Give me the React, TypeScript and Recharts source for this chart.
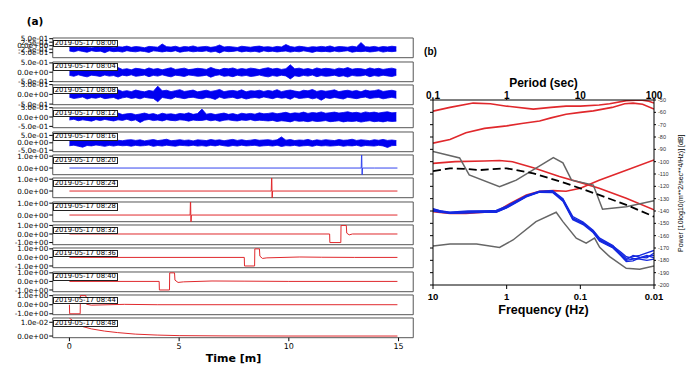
import React from 'react';
import { ComposedChart, LineChart, Line, Area, XAxis, YAxis, ReferenceArea } from 'recharts';

// ---- panel (a): hand-read samples of the 13 four-minute records ----
const stamps = [
  '2019-05-17 08:00', '2019-05-17 08:04', '2019-05-17 08:08', '2019-05-17 08:12',
  '2019-05-17 08:16', '2019-05-17 08:20', '2019-05-17 08:24', '2019-05-17 08:28',
  '2019-05-17 08:32', '2019-05-17 08:36', '2019-05-17 08:40', '2019-05-17 08:44',
  '2019-05-17 08:48',
];

// noisy records: upper / lower envelope of the trace, read in ~0.2 min bins
const hi0800 = [
  -0.10, -0.06, -0.12, -0.04, -0.09, -0.14, -0.05, -0.11, 0.02, -0.08, -0.13, -0.07, -0.10, -0.03, -0.12,
  -0.06, -0.09, -0.15, -0.05, -0.08, -0.11, 0.12, -0.07, -0.10, -0.04, -0.13, -0.06, -0.09, -0.02, -0.11,
  -0.08, -0.05, -0.12, -0.07, 0.05, -0.10, -0.06, -0.09, -0.13, -0.04, -0.08, -0.11, -0.06, -0.03, -0.10,
  -0.07, -0.12, -0.05, -0.09, 0.08, -0.06, -0.11, -0.04, -0.08, -0.13, -0.07, -0.10, -0.05, -0.09, -0.02,
  -0.12, -0.06, -0.08, -0.11, -0.04, -0.09, 0.22, -0.07, -0.10, -0.05, -0.12, -0.06, -0.09, -0.04, -0.08,
];
const lo0800 = [
  -0.38, -0.44, -0.35, -0.41, -0.47, -0.36, -0.42, -0.39, -0.50, -0.37, -0.43, -0.40, -0.46, -0.36, -0.41,
  -0.44, -0.38, -0.42, -0.48, -0.37, -0.40, -0.45, -0.39, -0.43, -0.36, -0.47, -0.41, -0.38, -0.44, -0.40,
  -0.42, -0.37, -0.46, -0.40, -0.52, -0.38, -0.43, -0.41, -0.36, -0.45, -0.39, -0.44, -0.40, -0.47, -0.37,
  -0.43, -0.39, -0.45, -0.41, -0.38, -0.46, -0.40, -0.44, -0.37, -0.42, -0.48, -0.39, -0.43, -0.41, -0.45,
  -0.38, -0.44, -0.40, -0.36, -0.47, -0.41, -0.43, -0.39, -0.45, -0.42, -0.37, -0.46, -0.40, -0.43, -0.39,
];
const hi0804 = [
  0.16, 0.21, 0.13, 0.19, 0.24, 0.14, 0.18, 0.22, 0.12, 0.20, 0.17, 0.25, 0.15, 0.19, 0.13,
  0.21, 0.18, 0.14, 0.23, 0.16, 0.20, 0.13, 0.19, 0.24, 0.15, 0.18, 0.22, 0.14, 0.17, 0.21,
  0.19, 0.15, 0.26, 0.17, 0.13, 0.21, 0.18, 0.23, 0.15, 0.20, 0.16, 0.22, 0.19, 0.14, 0.20,
  0.24, 0.17, 0.21, 0.15, 0.19, 0.40, 0.18, 0.22, 0.16, 0.20, 0.14, 0.23, 0.17, 0.21, 0.19,
  0.15, 0.22, 0.18, 0.25, 0.16, 0.20, 0.19, 0.14, 0.23, 0.17, 0.21, 0.15, 0.19, 0.22, 0.16,
];
const lo0804 = [
  -0.17, -0.22, -0.14, -0.20, -0.25, -0.16, -0.19, -0.23, -0.15, -0.21, -0.18, -0.26, -0.16, -0.20, -0.14,
  -0.22, -0.19, -0.15, -0.24, -0.17, -0.21, -0.14, -0.20, -0.25, -0.16, -0.19, -0.23, -0.15, -0.18, -0.22,
  -0.20, -0.16, -0.27, -0.18, -0.14, -0.22, -0.19, -0.24, -0.16, -0.21, -0.17, -0.23, -0.20, -0.15, -0.21,
  -0.25, -0.18, -0.22, -0.16, -0.20, -0.36, -0.19, -0.23, -0.17, -0.21, -0.15, -0.24, -0.18, -0.22, -0.20,
  -0.16, -0.23, -0.19, -0.26, -0.17, -0.21, -0.20, -0.15, -0.24, -0.18, -0.22, -0.16, -0.20, -0.23, -0.17,
];
const hi0808 = [
  0.20, 0.14, 0.18, 0.24, 0.13, 0.19, 0.35, 0.16, 0.21, 0.12, 0.18, 0.23, 0.15, 0.19, 0.14,
  0.22, 0.17, 0.13, 0.20, 0.16, 0.42, 0.18, 0.21, 0.14, 0.19, 0.24, 0.15, 0.18, 0.22, 0.13,
  0.17, 0.21, 0.15, 0.19, 0.25, 0.14, 0.18, 0.20, 0.16, 0.23, 0.13, 0.19, 0.17, 0.21, 0.15,
  0.20, 0.16, 0.24, 0.14, 0.19, 0.22, 0.17, 0.13, 0.21, 0.18, 0.25, 0.15, 0.20, 0.16, 0.19,
  0.23, 0.14, 0.18, 0.21, 0.16, 0.20, 0.13, 0.22, 0.17, 0.19, 0.24, 0.15, 0.18, 0.21, 0.16,
];
const lo0808 = [
  -0.15, -0.21, -0.18, -0.13, -0.24, -0.17, -0.20, -0.14, -0.22, -0.19, -0.16, -0.25, -0.18, -0.14, -0.21,
  -0.17, -0.23, -0.15, -0.19, -0.21, -0.38, -0.16, -0.20, -0.24, -0.14, -0.18, -0.22, -0.17, -0.15, -0.20,
  -0.23, -0.16, -0.19, -0.26, -0.14, -0.21, -0.18, -0.15, -0.22, -0.17, -0.24, -0.19, -0.16, -0.20, -0.13,
  -0.18, -0.22, -0.15, -0.20, -0.17, -0.25, -0.14, -0.21, -0.19, -0.16, -0.23, -0.18, -0.30, -0.17, -0.21,
  -0.16, -0.20, -0.24, -0.15, -0.19, -0.22, -0.17, -0.14, -0.21, -0.18, -0.16, -0.23, -0.19, -0.15, -0.20,
];
const hi0812 = [
  0.14, 0.19, 0.12, 0.17, 0.22, 0.13, 0.16, 0.20, 0.11, 0.18, 0.15, 0.21, 0.13, 0.17, 0.19,
  0.12, 0.16, 0.21, 0.14, 0.18, 0.11, 0.20, 0.15, 0.17, 0.13, 0.19, 0.16, 0.22, 0.14, 0.18,
  0.42, 0.15, 0.19, 0.13, 0.17, 0.21, 0.14, 0.18, 0.12, 0.20, 0.16, 0.19, 0.15, 0.22, 0.17,
  0.19, 0.23, 0.17, 0.21, 0.25, 0.18, 0.22, 0.20, 0.26, 0.19, 0.24, 0.21, 0.27, 0.20, 0.23,
  0.26, 0.21, 0.24, 0.28, 0.22, 0.25, 0.20, 0.27, 0.23, 0.26, 0.21, 0.25, 0.28, 0.22, 0.24,
];
const lo0812 = [
  -0.16, -0.12, -0.20, -0.15, -0.18, -0.22, -0.14, -0.19, -0.13, -0.17, -0.21, -0.15, -0.18, -0.12, -0.20,
  -0.15, -0.29, -0.17, -0.13, -0.19, -0.16, -0.21, -0.14, -0.18, -0.20, -0.15, -0.17, -0.22, -0.16, -0.19,
  -0.18, -0.14, -0.20, -0.16, -0.23, -0.17, -0.15, -0.19, -0.21, -0.16, -0.18, -0.14, -0.20, -0.17, -0.19,
  -0.21, -0.18, -0.24, -0.20, -0.22, -0.26, -0.19, -0.23, -0.21, -0.25, -0.20, -0.24, -0.22, -0.19, -0.25,
  -0.23, -0.20, -0.26, -0.22, -0.24, -0.21, -0.27, -0.23, -0.20, -0.25, -0.22, -0.26, -0.21, -0.24, -0.22,
];
const hi0816 = [
  0.17, 0.21, 0.14, 0.19, 0.16, 0.23, 0.13, 0.18, 0.20, 0.15, 0.22, 0.17, 0.14, 0.19, 0.21,
  0.16, 0.20, 0.13, 0.18, 0.22, 0.15, 0.19, 0.24, 0.14, 0.17, 0.21, 0.16, 0.19, 0.13, 0.20,
  0.18, 0.15, 0.22, 0.17, 0.20, 0.14, 0.19, 0.23, 0.16, 0.21, 0.15, 0.18, 0.22, 0.17, 0.19,
  0.21, 0.16, 0.20, 0.40, 0.18, 0.22, 0.15, 0.19, 0.17, 0.23, 0.14, 0.20, 0.16, 0.21, 0.18,
  0.15, 0.22, 0.17, 0.19, 0.24, 0.16, 0.20, 0.18, 0.14, 0.21, 0.17, 0.23, 0.16, 0.19, 0.15,
];
const lo0816 = [
  -0.20, -0.16, -0.23, -0.30, -0.18, -0.21, -0.15, -0.19, -0.24, -0.17, -0.22, -0.16, -0.20, -0.18, -0.23,
  -0.17, -0.21, -0.19, -0.15, -0.24, -0.18, -0.22, -0.16, -0.20, -0.23, -0.17, -0.19, -0.21, -0.16, -0.22,
  -0.19, -0.23, -0.17, -0.21, -0.15, -0.20, -0.24, -0.18, -0.22, -0.16, -0.21, -0.19, -0.17, -0.23, -0.20,
  -0.18, -0.22, -0.16, -0.25, -0.19, -0.21, -0.17, -0.23, -0.20, -0.18, -0.24, -0.16, -0.21, -0.19, -0.22,
  -0.20, -0.17, -0.23, -0.19, -0.21, -0.16, -0.24, -0.18, -0.20, -0.22, -0.17, -0.21, -0.32, -0.19, -0.18,
];

// pulse records: time (min) and amplitude
const t0820 = [0, 13.3, 13.32, 13.34, 13.36, 13.9, 14.95];
const v0820 = [0, 0, 1.6, -0.9, 0, 0, 0];
const t0824 = [0, 9.2, 9.22, 9.24, 9.26, 14.95];
const v0824 = [0, 0, 1.6, -0.9, 0, 0];
const t0828 = [0, 5.5, 5.52, 5.54, 5.56, 14.95];
const v0828 = [0, 0, 1.6, -0.9, 0, 0];
const t0832 = [0, 11.86, 11.87, 12.37, 12.38, 12.62, 12.64, 12.75, 12.9, 14.95];
const v0832 = [0, 0, -1, -1, 1, 1, 0.1, -0.1, 0, 0];
const t0836 = [0, 7.97, 7.98, 8.44, 8.45, 8.66, 8.68, 8.8, 9.0, 10.5, 11.5, 13, 14.95];
const v0836 = [0, 0, -1, -1, 1, 1, 0.15, -0.12, -0.05, 0.05, 0.02, 0, 0];
const t0840 = [0, 4.09, 4.1, 4.56, 4.57, 4.79, 4.81, 4.95, 5.2, 6.5, 8, 10, 14.95];
const v0840 = [0, 0, -1, -1, 1, 1, 0.15, -0.12, -0.05, 0.05, 0.03, 0, 0];
const t0844 = [0, 0.01, 0.49, 0.5, 0.75, 0.78, 1.0, 2.5, 4, 14.95];
const v0844 = [0, -1, -1, 1, 1, 0.05, -0.05, 0.04, 0, 0];
const t0848 = [0, 0.3, 0.6, 1.0, 1.6, 2.2, 3.0, 4.0, 5.0, 7, 10, 14.95];
const v0848 = [0.013, 0.0095, 0.0069, 0.0052, 0.0036, 0.0025, 0.0014, 0.0007, 0.0003, 0.0001, 0, 0];

const timeTicks = [0, 5, 10, 15];

// ---- panel (b): spectra, period (s) vs power (dB) ----
const periodTicks = [0.1, 1, 10, 100];
const periodLabels = ['0.1', '1', '10', '100'];
const freqLabels = ['10', '1', '0.1', '0.01'];
const dbTicks = [-200, -190, -180, -170, -160, -150, -140, -130, -120, -110, -100, -90, -80, -70, -60, -50];

const red1P = [0.1, 0.17, 0.35, 0.6, 1, 2.3, 4, 6.4, 10, 18, 25, 42, 66, 85, 100];
const red1Db = [-59, -56, -52.5, -53, -55, -57.4, -56, -55, -55, -54, -53, -50.5, -50, -51, -52.5];
const red2P = [0.1, 0.17, 0.28, 0.5, 1, 1.6, 2.8, 4, 6.4, 10, 15, 27, 40, 52, 70, 100];
const red2Db = [-85, -82, -76.6, -73, -71, -69, -67, -64.5, -61.5, -60, -58.8, -56, -53, -52.5, -53.5, -57.4];
const red3P = [0.1, 0.2, 0.5, 0.8, 1.2, 2.3, 5.2, 11, 18, 42, 100];
const red3Db = [-101.4, -100, -99.5, -99, -100, -105, -112, -117.6, -121.6, -129.7, -139];
const red4P = [0.1, 0.17, 0.28, 0.5, 0.72, 1.1, 1.85, 2.8, 4.3, 6.4, 10, 18, 42, 100];
const red4Db = [-140.5, -142, -142, -141, -140.5, -134, -127, -124, -123.5, -124, -121.6, -115, -107, -98.6];
const dashP = [0.1, 0.17, 0.3, 0.43, 1, 2.3, 6.4, 18, 42, 100];
const dashDb = [-107.6, -105.4, -106, -106.8, -105.4, -109.5, -117.6, -127, -135, -144.6];
const highP = [0.1, 0.23, 0.31, 0.8, 1.35, 4.3, 5.8, 7.6, 12, 15, 20, 42, 100];
const highDb = [-91.8, -97, -110.8, -120.3, -115, -96.7, -101, -115, -117.6, -119, -138.6, -136.5, -131.6];
const lowP = [0.1, 0.17, 0.39, 0.8, 1.22, 2.5, 4.7, 5.8, 8.8, 12, 15.6, 18.3, 25, 42, 64, 100];
const lowDb = [-168.4, -166.8, -166.8, -169.5, -163.5, -148.6, -141, -148.6, -162, -166, -162, -169.5, -177, -186.5, -187.3, -184.6];

const blueP = [0.1, 0.13, 0.17, 0.3, 0.5, 0.72, 1, 1.85, 2.8, 4.2, 5.8, 7.9, 10.9, 14.9, 18.3, 27.7, 35, 42, 52, 64, 80, 100];
const blue1 = [-139, -140.5, -141.5, -141, -140.5, -140.5, -137, -128, -124.3, -124.3, -131, -146, -150, -156.8, -163.5, -169, -174, -178.4, -177, -176, -174, -172];
const blue2 = [-138, -140, -141, -140, -140, -139.5, -136, -127.5, -124, -123.5, -130, -144.5, -149, -155.5, -162, -168, -175, -180, -179, -178, -177, -176];
const blue3 = [-140, -141, -142, -141.5, -141, -141, -137.5, -128.5, -124.8, -125, -132, -147, -151, -157.5, -164.5, -170, -176, -181, -180.5, -178, -176, -178];
const blue4 = [-139.5, -140.8, -141.2, -140.5, -140, -140, -136.5, -127.8, -124.5, -124, -131.5, -145.5, -150.5, -156, -163, -168.5, -173, -177, -178.5, -179, -180, -179];
const blue5 = [-138.5, -140.2, -141.8, -141.2, -140.8, -140.8, -137.2, -128.2, -124.6, -124.6, -130.5, -146.5, -149.5, -157, -164, -169.5, -175, -179.5, -176, -177.5, -178, -174];

const MPL = 'DejaVu Sans';
const GMT = '"Liberation Sans", Arial, sans-serif';

function sci(v: number) {
  const [m, e] = v.toExponential(1).split('e');
  const n = parseInt(e, 10);
  return `${m}e${n < 0 ? '-' : '+'}${String(Math.abs(n)).padStart(2, '0')}`;
}

const fromBand = (hi: number[], lo: number[]) =>
  hi.map((h, i) => ({ t: (i * 14.9) / (hi.length - 1), band: [lo[i], h] }));
const fromPairs = (ts: number[], vs: number[]) => ts.map((t, i) => ({ t, v: vs[i] }));
const spectrum = (ps: number[], dbs: number[]) => ps.map((p, i) => ({ p, db: dbs[i] }));

const BLUE = '#0000f0';
const RED = '#e0282c';

const traces = [
  { data: fromBand(hi0800, lo0800), domain: [-0.86, 0.55], ticks: [-0.5, -0.25, 0, 0.25, 0.5], color: BLUE, band: true },
  { data: fromBand(hi0804, lo0804), domain: [-0.51, 0.55], ticks: [-0.5, 0, 0.5], color: BLUE, band: true },
  { data: fromBand(hi0808, lo0808), domain: [-0.53, 0.48], ticks: [-0.5, 0, 0.5], color: BLUE, band: true },
  { data: fromBand(hi0812, lo0812), domain: [-0.57, 0.48], ticks: [-0.5, 0, 0.5], color: BLUE, band: true },
  { data: fromBand(hi0816, lo0816), domain: [-0.6, 0.73], ticks: [-0.5, 0, 0.5], color: BLUE, band: true },
  { data: fromPairs(t0820, v0820), domain: [-0.56, 1.1], ticks: [0, 1], color: '#3344ee' },
  { data: fromPairs(t0824, v0824), domain: [-0.56, 1.1], ticks: [0, 1], color: RED },
  { data: fromPairs(t0828, v0828), domain: [-0.56, 1.1], ticks: [0, 1], color: RED },
  { data: fromPairs(t0832, v0832), domain: [-1.25, 1.05], ticks: [-1, 0, 1], color: RED },
  { data: fromPairs(t0836, v0836), domain: [-1.2, 1.1], ticks: [-1, 0, 1], color: RED },
  { data: fromPairs(t0840, v0840), domain: [-1.2, 1.1], ticks: [-1, 0, 1], color: RED },
  { data: fromPairs(t0844, v0844), domain: [-1.1, 1.07], ticks: [-1, 0, 1], color: RED },
  { data: fromPairs(t0848, v0848), domain: [-0.0012, 0.0131], ticks: [0, 0.01], color: RED },
];

const PAD = 6;
const BOX_H = 19.7;
const X_DOMAIN: [number, number] = [-0.76, 15.67];

function Trace({ i, data, domain, ticks, color, band, last }: any) {
  const top = 38.3 + i * 23.33;
  const xh = last ? 22 : 0;
  return (
    <div style={{ position: 'absolute', left: 0, top: top - PAD }}>
      <ComposedChart width={420} height={BOX_H + 2 * PAD + xh} data={data}
        margin={{ top: PAD, right: 6.7, bottom: PAD, left: 0 }}>
        <XAxis dataKey="t" type="number" domain={X_DOMAIN} allowDataOverflow hide={!last}
          ticks={timeTicks} height={xh} tickSize={3.5} tickMargin={2} axisLine={false}
          tick={{ fontSize: 8, fill: '#000', fontFamily: MPL }} tickLine={{ stroke: '#000' }} />
        <YAxis type="number" domain={domain} allowDataOverflow ticks={ticks} width={52.7}
          tickFormatter={sci} tickSize={3.5} tickMargin={1} axisLine={false} interval={0}
          tick={{ fontSize: 7.2, fill: '#000', fontFamily: MPL }} tickLine={{ stroke: '#000' }} />
        {band ? (
          <Area dataKey="band" type="linear" stroke={color} strokeWidth={0.8} fill={color} fillOpacity={1}
            dot={false} activeDot={false} isAnimationActive={false} />
        ) : (
          <Line dataKey="v" type="linear" stroke={color} strokeWidth={1} dot={false} isAnimationActive={false} />
        )}
        <ReferenceArea x1={X_DOMAIN[0]} x2={X_DOMAIN[1]} y1={domain[0]} y2={domain[1]}
          fill="none" fillOpacity={0} stroke="#555" strokeWidth={1} />
      </ComposedChart>
      <div style={{
        position: 'absolute', left: 52.7, top: PAD + 1.6, background: '#fff',
        border: '0.8px solid #222', fontFamily: MPL, fontSize: 6.8, lineHeight: '5.6px',
        padding: '0 1px', whiteSpace: 'nowrap', color: '#000',
      }}>{stamps[i]}</div>
    </div>
  );
}

function Label({ text, cx, cy, size, weight, family, rotate }: any) {
  return (
    <div style={{
      position: 'absolute', left: cx - 150, top: cy - size * 0.6, width: 300, textAlign: 'center',
      fontSize: size, lineHeight: `${size * 1.2}px`, fontWeight: weight, fontFamily: family, color: '#000',
      whiteSpace: 'nowrap', transform: rotate ? `rotate(${rotate}deg)` : undefined,
    }}>{text}</div>
  );
}

const specLines = [
  { d: spectrum(red1P, red1Db), c: RED, w: 1.6 },
  { d: spectrum(red2P, red2Db), c: RED, w: 1.6 },
  { d: spectrum(red3P, red3Db), c: RED, w: 1.6 },
  { d: spectrum(red4P, red4Db), c: RED, w: 1.6 },
  { d: spectrum(blueP, blue1), c: '#1428e0', w: 1.3 },
  { d: spectrum(blueP, blue2), c: '#1428e0', w: 1.3 },
  { d: spectrum(blueP, blue3), c: '#1428e0', w: 1.3 },
  { d: spectrum(blueP, blue4), c: '#1428e0', w: 1.3 },
  { d: spectrum(blueP, blue5), c: '#1428e0', w: 1.3 },
  { d: spectrum(highP, highDb), c: '#666', w: 1.5 },
  { d: spectrum(lowP, lowDb), c: '#666', w: 1.5 },
];

export default function App() {
  return (
    <div style={{ position: 'absolute', left: 0, top: 0, width: 700, height: 377, background: '#fff', overflow: 'hidden' }}>
      <Label text="(a)" cx={35} cy={21} size={10.5} weight="bold" family={MPL} />
      {traces.map((tr, i) => (
        <Trace key={i} i={i} {...tr} last={i === traces.length - 1} />
      ))}
      <Label text="Time [m]" cx={233.5} cy={359} size={11} weight="bold" family={MPL} />

      <Label text="(b)" cx={430.5} cy={52} size={10} weight="bold" family={GMT} />
      <div style={{ position: 'absolute', left: 400, top: 60 }}>
        <LineChart width={300} height={260} margin={{ top: 18, right: 16, bottom: 15, left: 28 }}>
          <XAxis xAxisId="bottom" dataKey="p" type="number" scale="log" domain={[0.1, 100]} allowDataOverflow
            ticks={periodTicks} interval={0} height={20} tickSize={4} tickMargin={4}
            tickFormatter={(p: number) => freqLabels[periodTicks.indexOf(p)] ?? ''}
            stroke="#000" tick={{ fontSize: 9.5, fontWeight: 'bold', fill: '#000', fontFamily: GMT }} />
          <XAxis xAxisId="top" orientation="top" dataKey="p" type="number" scale="log" domain={[0.1, 100]} allowDataOverflow
            ticks={periodTicks} interval={0} height={22} tickSize={1} tickMargin={0}
            tickFormatter={(p: number) => periodLabels[periodTicks.indexOf(p)] ?? ''}
            stroke="#000" tick={{ fontSize: 10, fontWeight: 'bold', fill: '#000', fontFamily: GMT }} />
          <YAxis yAxisId="left" type="number" domain={[-200, -50]} allowDataOverflow ticks={dbTicks} interval={0}
            width={5} tickSize={3} tickFormatter={() => ''} stroke="#000" tick={{ fontSize: 1 }} />
          <YAxis yAxisId="right" orientation="right" type="number" domain={[-200, -50]} allowDataOverflow
            ticks={dbTicks} interval={0} width={30} tickSize={2} tickMargin={2} stroke="#000"
            tick={{ fontSize: 5.5, fill: '#333', fontFamily: GMT }} />
          {specLines.map((s, k) => (
            <Line key={k} xAxisId="bottom" yAxisId="right" data={s.d} dataKey="db" stroke={s.c}
              strokeWidth={s.w} dot={false} isAnimationActive={false} />
          ))}
          <Line xAxisId="bottom" yAxisId="right" data={spectrum(dashP, dashDb)} dataKey="db" stroke="#000"
            strokeWidth={1.8} strokeDasharray="8 4" dot={false} isAnimationActive={false} />
        </LineChart>
      </div>
      <Label text="Period (sec)" cx={543.5} cy={83} size={12} weight="bold" family={GMT} />
      <Label text="Frequency (Hz)" cx={543.5} cy={310} size={12.5} weight="bold" family={GMT} />
      <Label text="Power [10log10(m**2/sec**4/Hz)] [dB]" cx={681} cy={193} size={7} weight="normal" family={GMT} rotate={-90} />
    </div>
  );
}
